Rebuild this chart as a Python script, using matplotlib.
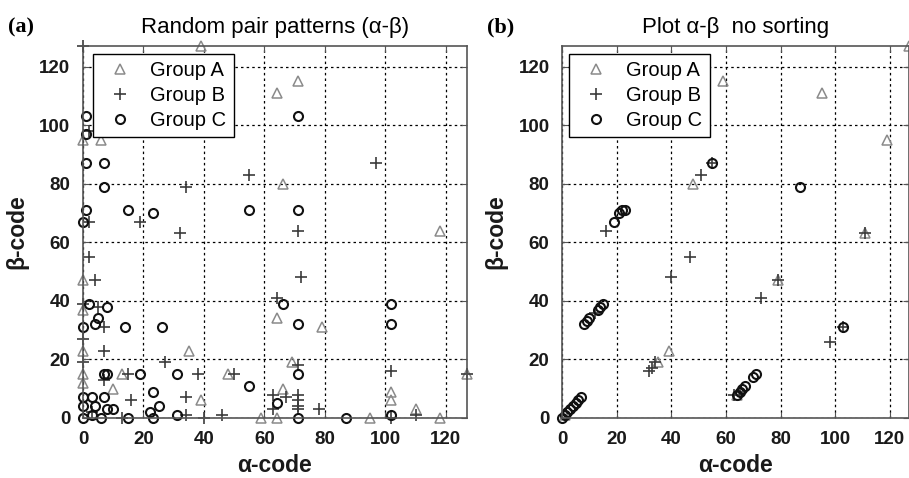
import matplotlib
matplotlib.use("Agg")
import matplotlib.pyplot as plt

plt.rcParams['font.family'] = ['Liberation Sans', 'DejaVu Sans']

# ---- panel (a): random pair patterns ----
a_groupA_x = [39, 64, 71, 0, 6, 66, 118, 0, 0, 64, 79, 0, 35, 69, 0, 13, 48, 0, 10, 66,
              102, 102, 39, 59, 64, 95, 110, 118, 127]
a_groupA_y = [127, 111, 115, 95, 95, 80, 64, 47, 37, 34, 31, 23, 23, 19, 15, 15, 15, 12, 10, 10,
              9, 6, 6, 0, 0, 0, 3, 0, 15]

a_groupB_x = [0, 97, 55, 34, 2, 2, 19, 32, 71, 2, 4, 72, 64, 0, 5, 7, 0, 7, 0, 27,
              71, 102, 15, 38, 50, 7, 16, 34, 63, 67, 71, 71, 71, 71, 63, 78, 46, 40, 13, 34,
              110, 127, 102, 3]
a_groupB_y = [127, 87, 83, 79, 98, 67, 67, 63, 64, 55, 47, 48, 41, 39, 38, 31, 27, 23, 19, 19,
              18, 16, 15, 15, 15, 13, 6, 7, 8, 7, 8, 6, 4, 3, 3, 3, 1, 0, 0, 1,
              1, 15, 0, 2]

a_groupC_x = [1, 71, 1, 1, 7, 7, 1, 15, 23, 55, 71, 0, 2, 8, 66, 102, 5, 4, 0, 14,
              26, 71, 102, 7, 8, 19, 31, 71, 55, 23, 64, 0, 3, 7, 0, 4, 8, 10, 25, 22,
              0, 3, 6, 15, 23, 31, 71, 87, 102]
a_groupC_y = [103, 103, 97, 87, 87, 79, 71, 71, 70, 71, 71, 67, 39, 38, 39, 39, 34, 32, 31, 31,
              31, 32, 32, 15, 15, 15, 15, 15, 11, 9, 5, 7, 7, 7, 4, 4, 3, 3, 4, 2,
              0, 1, 0, 0, 0, 1, 0, 0, 1]

# ---- panel (b): the same codes without sorting ----
b_groupA_x = [59, 95, 119, 127, 48, 111, 79, 39, 35, 64, 1]
b_groupA_y = [115, 111, 95, 127, 80, 63, 47, 23, 19, 8, 1]

b_groupB_x = [51, 16, 47, 40, 73, 79, 111, 98, 32, 33, 34, 63, 12, 55, 103, 65]
b_groupB_y = [83, 64, 55, 48, 41, 47, 63, 26, 16, 17, 19, 8, 36, 87, 31, 9]

b_groupC_x = [0, 1, 2, 3, 4, 5, 6, 7, 8, 9, 10, 13, 14, 15, 19, 21, 22, 23, 55, 87,
              103, 64, 65, 66, 67, 70, 71]
b_groupC_y = [0, 1, 2, 3, 4, 5, 6, 7, 32, 33, 34, 37, 38, 39, 67, 70, 71, 71, 87, 79,
              31, 8, 9, 10, 11, 14, 15]

legend_labels = ["Group A", "Group B", "Group C"]
ticks = [0, 20, 40, 60, 80, 100, 120]

fig = plt.figure(figsize=(9.09, 4.78), dpi=100)
ax_a = fig.add_axes([83 / 909, 60 / 478, 384 / 909, 372 / 478])
ax_b = fig.add_axes([562 / 909, 60 / 478, 347 / 909, 372 / 478])

TICK_FS = 13.5
LABEL_FS = 16.5


def draw_panel(ax, ax_, ay_, bx_, by_, cx_, cy_, title, leg_x):
    ax.plot(ax_, ay_, linestyle='none', marker='^', markersize=7.5,
            markerfacecolor='none', markeredgecolor='#8a8a8a', markeredgewidth=1.1,
            label=legend_labels[0], clip_on=False)
    ax.plot(bx_, by_, linestyle='none', marker='+', markersize=8,
            markeredgecolor='#3c3c3c', markeredgewidth=1.2, label=legend_labels[1],
            clip_on=False)
    ax.plot(cx_, cy_, linestyle='none', marker='o', markersize=6.5,
            markerfacecolor='none', markeredgecolor='#111111', markeredgewidth=1.5,
            label=legend_labels[2], clip_on=False)
    ax.set_xlim(0, 127)
    ax.set_ylim(0, 127)
    ax.set_xticks(ticks)
    ax.set_yticks(ticks)
    ax.grid(True, color='black', linestyle=(0, (2, 2.5)), linewidth=0.9)
    ax.set_axisbelow(True)
    ax.tick_params(direction='in', length=4, top=True, right=True,
                   labelsize=TICK_FS, color='#555555', pad=9)
    for lbl in ax.get_xticklabels() + ax.get_yticklabels():
        lbl.set_fontweight('bold')
        lbl.set_color('#1a1a1a')
    for s in ax.spines.values():
        s.set_color('#555555')
        s.set_linewidth(1.2)
    ax.set_xlabel('α-code', fontsize=LABEL_FS, fontweight='bold', labelpad=5,
                  color='#1a1a1a')
    ax.set_ylabel('β-code', fontsize=LABEL_FS, fontweight='bold', labelpad=8,
                  color='#1a1a1a')
    ax.set_title(title, fontsize=16, pad=9)
    leg = ax.legend(loc='upper left', bbox_to_anchor=(leg_x, 0.978), borderaxespad=0,
                    fontsize=14.5, frameon=True, fancybox=False, edgecolor='black',
                    framealpha=1, handletextpad=0.5, handlelength=2.0,
                    labelspacing=0.3, borderpad=0.35)
    leg.get_frame().set_linewidth(1.0)
    leg.set_zorder(5)


draw_panel(ax_a, a_groupA_x, a_groupA_y, a_groupB_x, a_groupB_y, a_groupC_x, a_groupC_y,
           'Random pair patterns (α-β)', 0.026)
draw_panel(ax_b, b_groupA_x, b_groupA_y, b_groupB_x, b_groupB_y, b_groupC_x, b_groupC_y,
           'Plot α-β  no sorting', 0.02)

fig.text(8 / 909, 1 - 27 / 478, '(a)', fontsize=16, fontweight='bold',
         family=['Liberation Serif', 'DejaVu Serif'], va='center', ha='left')
fig.text(487 / 909, 1 - 27 / 478, '(b)', fontsize=16, fontweight='bold',
         family=['Liberation Serif', 'DejaVu Serif'], va='center', ha='left')

fig.savefig('out.png', dpi=100)
